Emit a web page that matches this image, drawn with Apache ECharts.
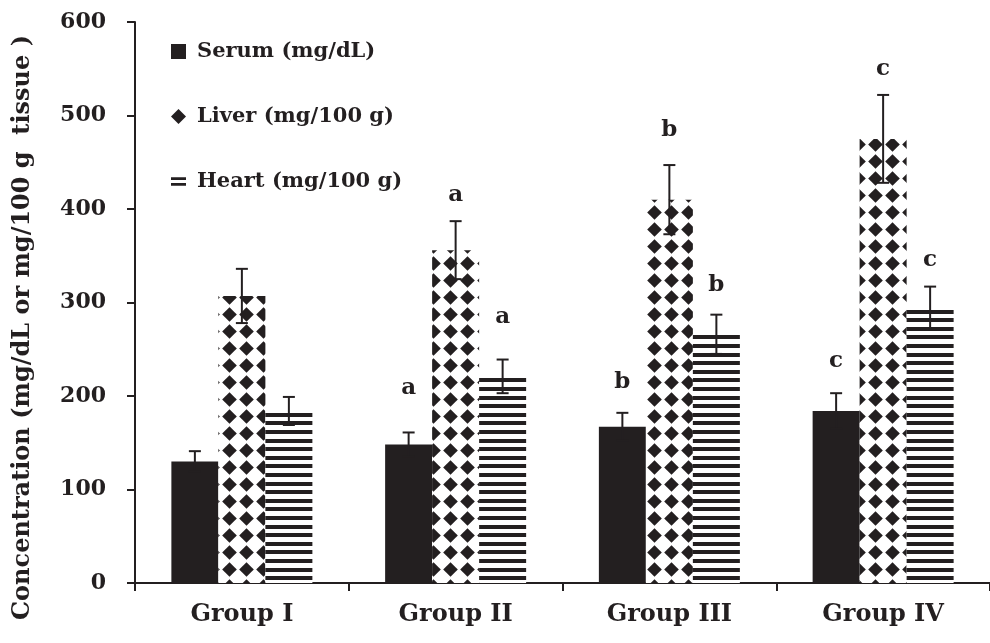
<!DOCTYPE html>
<html><head><meta charset="utf-8">
<script src="https://cdn.jsdelivr.net/npm/echarts@6/dist/echarts.min.js"></script>
<style>html,body{margin:0;padding:0;background:#fff}#c{width:990px;height:643px}</style>
</head><body><div id="c"></div>
<script>
// ---- data ----
const categories = ['Group I', 'Group II', 'Group III', 'Group IV'];
const seriesNames = ['Serum (mg/dL)', 'Liver (mg/100 g)', 'Heart (mg/100 g)'];
const serum = [130, 148, 167, 184];
const serumErr = [11, 13, 15, 19];
const liver = [307, 356, 410, 475];
const liverErr = [29, 31, 37, 47];
const heart = [184, 221, 266, 294];
const heartErr = [15, 18, 21, 23];
const serumSig = ['', 'a', 'b', 'c'];
const liverSig = ['', 'a', 'b', 'c'];
const heartSig = ['', 'a', 'b', 'c'];
const serumSigAt = [null, 209, 215, 237];
const liverSigAt = [null, 415, 484, 550];
const heartSigAt = [null, 284, 319, 345];
const yMin = 0, yMax = 600, yStep = 100;

// ---- styles ----
const INK = '#231f20';
const FONT = 'DejaVu Serif';
const BAR_W = 47;

function diamondPattern() {
  const c = document.createElement('canvas'); c.width = 17; c.height = 17;
  const g = c.getContext('2d');
  g.fillStyle = '#fff'; g.fillRect(0, 0, 17, 17);
  g.fillStyle = INK; g.beginPath();
  g.moveTo(8.5, 1.2); g.lineTo(15.8, 8.5); g.lineTo(8.5, 15.8); g.lineTo(1.2, 8.5);
  g.closePath(); g.fill();
  return c;
}
function stripePattern() {
  const c = document.createElement('canvas'); c.width = 10; c.height = 43;
  const g = c.getContext('2d');
  g.fillStyle = '#fff'; g.fillRect(0, 0, 10, 43);
  g.fillStyle = INK;
  [0, 9, 17, 26, 34].forEach(y => g.fillRect(0, y, 10, 4));
  return c;
}

const fills = [INK, { image: diamondPattern(), repeat: 'repeat' }, { image: stripePattern(), repeat: 'repeat' }];

function barSeries(k, vals) {
  return {
    type: 'bar', name: seriesNames[k], data: vals, barWidth: BAR_W, barGap: '0%',
    itemStyle: { color: fills[k] }, silent: true, z: 2
  };
}
function errSeries(k, vals, errs, sig, sigAt) {
  return {
    type: 'custom', name: 'err' + k, z: 10, silent: true,
    data: vals.map((v, i) => [i, v, errs[i]]),
    renderItem(params, api) {
      const i = api.value(0), v = api.value(1), e = api.value(2);
      const off = (k - 1) * BAR_W;
      const top = api.coord([i, v + e]);
      const bot = api.coord([i, v - e]);
      const x = top[0] + off;
      const cap = 6;
      const ls = { stroke: INK, lineWidth: 2 };
      const children = [
        { type: 'line', shape: { x1: x, y1: top[1], x2: x, y2: bot[1] }, style: ls },
        { type: 'line', shape: { x1: x - cap, y1: top[1], x2: x + cap, y2: top[1] }, style: ls },
        { type: 'line', shape: { x1: x - cap, y1: bot[1], x2: x + cap, y2: bot[1] }, style: ls }
      ];
      if (sig[i] && sigAt[i] != null) {
        const p = api.coord([i, sigAt[i]]);
        children.push({
          type: 'text',
          style: { text: sig[i], x: x, y: p[1], align: 'center', verticalAlign: 'middle',
            fontFamily: FONT, fontWeight: 'bold', fontSize: 23, fill: INK }
        });
      }
      return { type: 'group', children };
    }
  };
}

const chart = echarts.init(document.getElementById('c'), null, { renderer: 'canvas' });
chart.setOption({
  animation: false,
  backgroundColor: '#fff',
  grid: { left: 135, right: -6, top: 22, bottom: 60, containLabel: false },
  legend: {
    orient: 'vertical', left: 166, top: 36, itemWidth: 15, itemHeight: 15, itemGap: 44,
    selectedMode: false,
    textStyle: { fontFamily: FONT, fontWeight: 'bold', fontSize: 21, color: INK, padding: [0, 0, 0, 6] },
    data: [
      { name: seriesNames[0], icon: 'rect', itemStyle: { color: INK } },
      { name: seriesNames[1], icon: 'diamond', itemStyle: { color: INK } },
      { name: seriesNames[2], icon: 'path://M0,0M14,0M0,3H14V5.5H0Z M0,8.5H14V11H0Z M0,14', itemStyle: { color: INK } }
    ]
  },
  xAxis: {
    type: 'category', data: categories,
    axisLine: { lineStyle: { color: INK, width: 2 } },
    axisTick: { show: true, length: 8, lineStyle: { color: INK, width: 2 } },
    axisLabel: { fontFamily: FONT, fontWeight: 'bold', fontSize: 24, color: INK, margin: 20 }
  },
  yAxis: {
    type: 'value', min: yMin, max: yMax, interval: yStep,
    splitLine: { show: false },
    axisLine: { show: true, lineStyle: { color: INK, width: 2 } },
    axisTick: { show: true, length: 8, lineStyle: { color: INK, width: 2 } },
    axisLabel: { fontFamily: FONT, fontWeight: 'bold', fontSize: 22, color: INK, margin: 29 },
    name: 'Concentration (mg/dL or mg/100 g  tissue )',
    nameLocation: 'middle', nameRotate: 90, nameGap: 100,
    nameTextStyle: { fontFamily: FONT, fontWeight: 'bold', fontSize: 24, color: INK, padding: [0, 50, 0, 0] }
  },
  series: [
    barSeries(0, serum), barSeries(1, liver), barSeries(2, heart),
    errSeries(0, serum, serumErr, serumSig, serumSigAt),
    errSeries(1, liver, liverErr, liverSig, liverSigAt),
    errSeries(2, heart, heartErr, heartSig, heartSigAt)
  ]
});
</script>
</body></html>
